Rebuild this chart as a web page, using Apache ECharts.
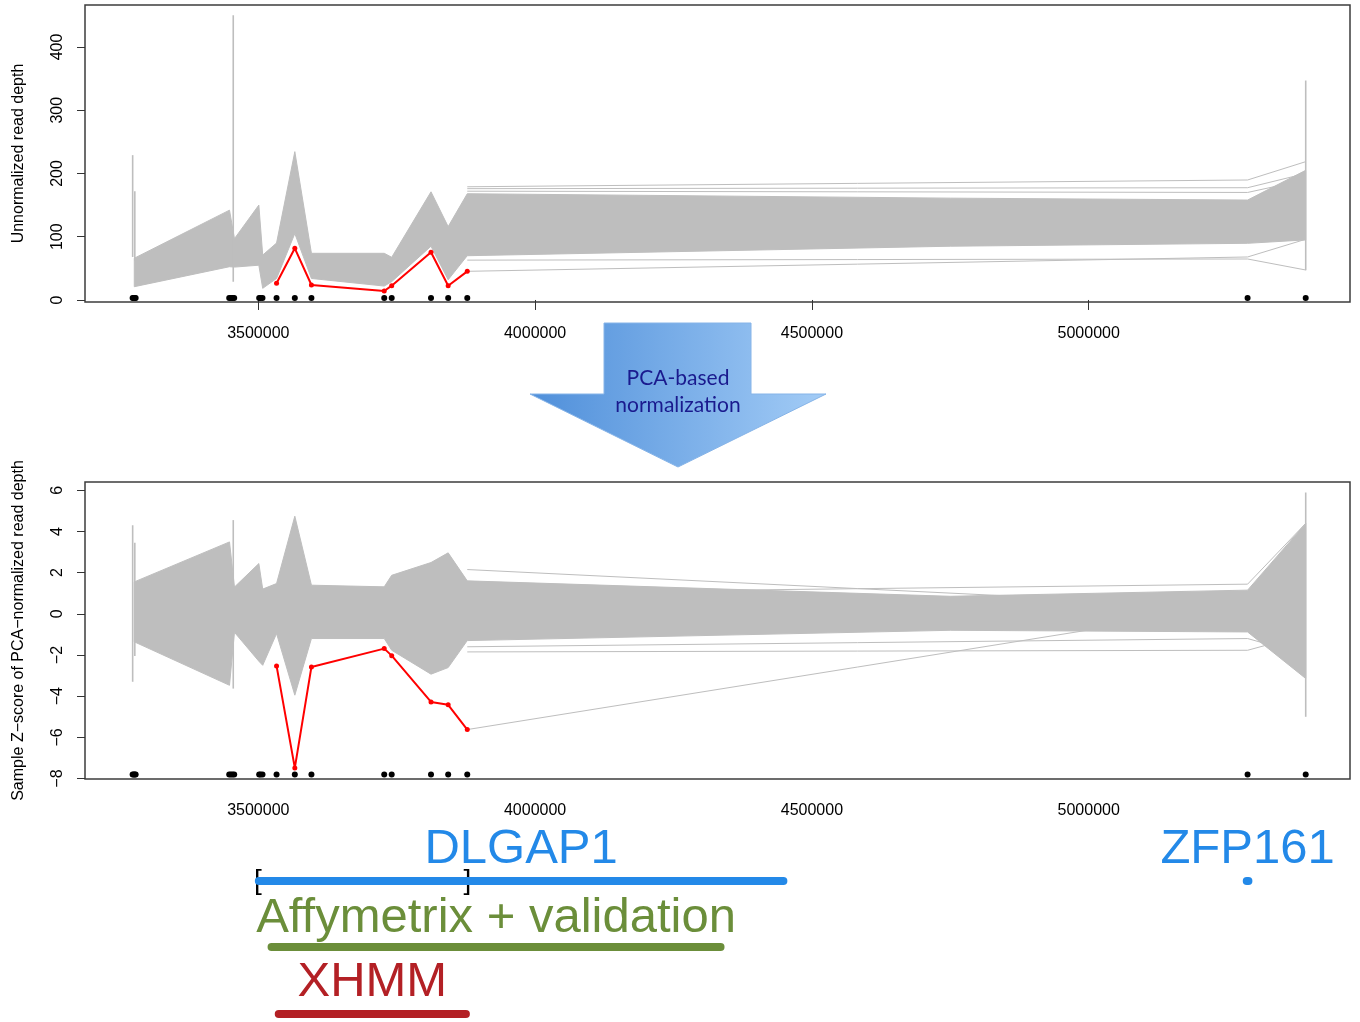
<!DOCTYPE html>
<html><head><meta charset="utf-8">
<script src="https://cdn.jsdelivr.net/npm/echarts@6/dist/echarts.min.js"></script>
<style>html,body{margin:0;padding:0;background:#fff}#c{width:1360px;height:1022px}</style>
</head><body><div id="c"></div><script>
// ---------- data ----------
const targetPos = [3273000,3275000,3277000,3278500,3447500,3450500,3453500,3456500,3501600,3504000,3507600,3533000,3566000,3596000,3727500,3741000,3812000,3843000,3877500,5287000,5392000];

// envelope of the grey sample bundle (vertices)
const envX     = [3276000,3448000,3457000,3501000,3508000,3533000,3566000,3596000,3727500,3741000,3812000,3843000,3877500,4750000,5287000,5392000];
const rawUpper = [66,142,97,150,71,90,234.5,73.8,73.8,67.5,171,116,168,161,158,205];
const rawLower = [21,52.6,52,55,18.4,34,105,34,22,29,85,32,70,85,89.6,95];
const zUpper   = [1.55,3.49,1.3,2.44,1.2,1.47,4.74,1.39,1.31,1.87,2.49,2.96,1.6,0.85,1.15,4.39];
const zLower   = [-1.36,-3.47,-0.9,-2.3,-2.5,-0.96,-3.95,-1.2,-1.2,-1.77,-2.93,-2.61,-1.3,-0.8,-0.88,-3.14];

// vertical spikes where many targets sit almost on top of each other
const spikeX     = [3273100,3277000,3454800,5392000];
const rawSpikeLo = [68,62,29,47];
const rawSpikeHi = [229,172,450,347];
const zSpikeLo   = [-3.3,-2.05,-3.63,-5.0];
const zSpikeHi   = [4.3,3.45,4.55,5.89];

// the sample with the deletion (red)
const delX   = [3533000,3566000,3596000,3727500,3741000,3812000,3843000,3877500];
const delRaw = [26.4,81.7,23.7,14.2,22.6,75.4,22.6,45.3];
const delZ   = [-2.53,-7.48,-2.58,-1.69,-2.03,-4.28,-4.42,-5.62];

// individual grey lines that stand out on the right side
const tailX    = [3877500,5287000,5392000];
const rawTails = [[45.3,68,96],[179,189.7,218.7],[176,177.5,200],[172,170,190],[63,64.8,47.4]];
const zTails   = [[-5.62,0.45,0.3],[2.15,0.3,1.5],[1.0,1.44,4.39],[-1.85,-1.77,-1.0],[-1.6,-1.2,-2.0]];

// tick labels
const xTicks   = [3500000,4000000,4500000,5000000];
const rawTicks = [0,100,200,300,400];
const zTicks   = [-8,-6,-4,-2,0,2,4,6];

// annotations under the plots
const geneNames  = ['DLGAP1','ZFP161'];
const geneStart  = [3501000,5285500];
const geneEnd    = [4448500,5288500];
const callNames  = ['Affymetrix + validation','XHMM'];
const callStart  = [3524000,3537000];
const callEnd    = [4335000,3875000];
const bracketPos = [3499500,3877500];
const bracketTxt = ['[',']'];

// ---------- chart ----------
const FONT = 'Liberation Sans, Arial, Helvetica, sans-serif';
const GREY = '#bebebe';
const XMIN = 3187000, XMAX = 5472000;

function xAx(gi, show) {
  return {
    type: 'value', gridIndex: gi, min: XMIN, max: XMAX, show: show,
    axisLine: {show: false}, splitLine: {show: false},
    axisTick: {show: true, length: 10, customValues: xTicks, lineStyle: {color: '#333', width: 1}},
    axisLabel: {show: true, customValues: xTicks, margin: 24, color: '#000', fontSize: 16, fontFamily: FONT,
      formatter: v => String(v)}
  };
}
function yAx(gi, min, max, ticks, name) {
  return {
    type: 'value', gridIndex: gi, min: min, max: max,
    name: name, nameLocation: 'middle', nameGap: 58,
    nameTextStyle: {color: '#000', fontSize: 16, fontFamily: FONT},
    axisLine: {show: false}, splitLine: {show: false},
    axisTick: {show: true, length: 8, customValues: ticks, lineStyle: {color: '#333', width: 1}},
    axisLabel: {show: true, customValues: ticks, rotate: 90, margin: 19, color: '#000', fontSize: 16, fontFamily: FONT,
      formatter: v => String(v).replace('-', '\u2212')}
  };
}

function bandSeries(ai, upper, lower) {
  return {
    type: 'custom', xAxisIndex: ai, yAxisIndex: ai, silent: true, z: 1,
    data: envX.map((x, i) => [x, lower[i], upper[i]]),
    encode: {x: 0, y: [1, 2]},
    renderItem: (params, api) => {
      if (params.dataIndex !== 0) return null;
      const pts = [];
      for (let i = 0; i < envX.length; i++) pts.push(api.coord([envX[i], upper[i]]));
      for (let i = envX.length - 1; i >= 0; i--) pts.push(api.coord([envX[i], lower[i]]));
      return {type: 'polygon', shape: {points: pts}, style: {fill: GREY, stroke: GREY, lineWidth: 1}};
    }
  };
}
function spikeSeries(ai, lo, hi) {
  return {
    type: 'custom', xAxisIndex: ai, yAxisIndex: ai, silent: true, z: 2,
    data: spikeX.map((x, i) => [x, lo[i], hi[i]]),
    encode: {x: 0, y: [1, 2]},
    renderItem: (params, api) => {
      const a = api.coord([api.value(0), api.value(1)]);
      const b = api.coord([api.value(0), api.value(2)]);
      return {type: 'line', shape: {x1: a[0], y1: a[1], x2: b[0], y2: b[1]}, style: {stroke: GREY, lineWidth: 1.6}};
    }
  };
}
function tailSeries(ai, tails) {
  return tails.map(t => ({
    type: 'line', xAxisIndex: ai, yAxisIndex: ai, silent: true, z: 2, symbol: 'none',
    lineStyle: {color: GREY, width: 1}, data: tailX.map((x, i) => [x, t[i]])
  }));
}
function redSeries(ai, vals) {
  return {
    type: 'line', xAxisIndex: ai, yAxisIndex: ai, silent: true, z: 5,
    symbol: 'circle', symbolSize: 5, itemStyle: {color: '#ff0000', opacity: 1},
    lineStyle: {color: '#ff0000', width: 2}, data: delX.map((x, i) => [x, vals[i]])
  };
}
function dotSeries(ai, yv) {
  return {
    type: 'scatter', xAxisIndex: ai, yAxisIndex: ai, silent: true, z: 6,
    symbol: 'circle', symbolSize: 6, itemStyle: {color: '#000', opacity: 1},
    data: targetPos.map(x => [x, yv])
  };
}

const series = [];
// top panel
series.push(bandSeries(0, rawUpper, rawLower));
series.push(spikeSeries(0, rawSpikeLo, rawSpikeHi));
series.push(...tailSeries(0, rawTails));
series.push(redSeries(0, delRaw));
series.push(dotSeries(0, 3));
// bottom panel
series.push(bandSeries(1, zUpper, zLower));
series.push(spikeSeries(1, zSpikeLo, zSpikeHi));
series.push(...tailSeries(1, zTails));
series.push(redSeries(1, delZ));
series.push(dotSeries(1, -7.8));

// annotation panel (y = row offset below the plots)
function spanLine(s, e, row, color) {
  return {type: 'line', xAxisIndex: 2, yAxisIndex: 2, silent: true, symbol: 'none',
    lineStyle: {color: color, width: 8, cap: 'round'}, data: [[s, row], [e, row]]};
}
function textSeries(names, xs, row, color, size) {
  return {type: 'scatter', xAxisIndex: 2, yAxisIndex: 2, silent: true, symbolSize: 1,
    itemStyle: {color: 'rgba(0,0,0,0)', opacity: 1},
    data: names.map((n, i) => ({name: n, value: [xs[i], row]})),
    label: {show: true, position: 'inside', formatter: '{b}', color: color, opacity: 1, fontSize: size, fontFamily: FONT}};
}
const BLUE = '#2389e8', GREEN = '#6b8e3a', DRED = '#b32025';
series.push(spanLine(geneStart[0], geneEnd[0], 61, BLUE));
series.push(spanLine(geneStart[1], geneEnd[1], 61, BLUE));
series.push(spanLine(callStart[0], callEnd[0], 127, GREEN));
series.push(spanLine(callStart[1], callEnd[1], 194, DRED));
series.push(textSeries(geneNames, geneStart.map((s, i) => (s + geneEnd[i]) / 2), 29.5, BLUE, 49));
series.push(textSeries([callNames[0]], [(callStart[0] + callEnd[0]) / 2], 98.5, GREEN, 49));
series.push(textSeries([callNames[1]], [(callStart[1] + callEnd[1]) / 2], 162, DRED, 49));
series.push(textSeries(bracketTxt, bracketPos, 61, '#000', 28));

const option = {
  animation: false,
  backgroundColor: '#fff',
  grid: [
    {left: 85, width: 1265, top: 5, height: 297, show: true, borderColor: '#3c3c3c', borderWidth: 1.5, backgroundColor: 'transparent'},
    {left: 85, width: 1265, top: 482, height: 297, show: true, borderColor: '#3c3c3c', borderWidth: 1.5, backgroundColor: 'transparent'},
    {left: 85, width: 1265, top: 820, height: 200, show: false}
  ],
  xAxis: [xAx(0, true), xAx(1, true), {type: 'value', gridIndex: 2, min: XMIN, max: XMAX, show: false}],
  yAxis: [
    yAx(0, -3.2, 466.4, rawTicks, 'Unnormalized read depth'),
    yAx(1, -8.02, 6.4, zTicks, 'Sample Z\u2212score of PCA\u2212normalized read depth'),
    {type: 'value', gridIndex: 2, min: 0, max: 200, inverse: true, show: false}
  ],
  graphic: [
    {type: 'polygon', z: 100,
     shape: {points: [[604,323],[751,323],[751,394],[826,394],[678,467],[530,394],[604,394]]},
     style: {fill: {type: 'linear', x: 0, y: 0, x2: 1, y2: 0,
       colorStops: [{offset: 0, color: '#4f8fda'}, {offset: 1, color: '#a3ccf6'}]},
       stroke: '#86b4e8', lineWidth: 1}},
    {type: 'text', z: 101, x: 678, y: 378,
     style: {text: 'PCA-based', fill: '#1a1a8e', fontSize: 21, fontFamily: 'Lato, Open Sans, sans-serif', align: 'center', verticalAlign: 'middle'}},
    {type: 'text', z: 101, x: 678, y: 405,
     style: {text: 'normalization', fill: '#1a1a8e', fontSize: 21, fontFamily: 'Lato, Open Sans, sans-serif', align: 'center', verticalAlign: 'middle'}}
  ],
  series: series
};
const chart = echarts.init(document.getElementById('c'), null, {renderer: 'canvas'});
chart.setOption(option);
</script></body></html>
